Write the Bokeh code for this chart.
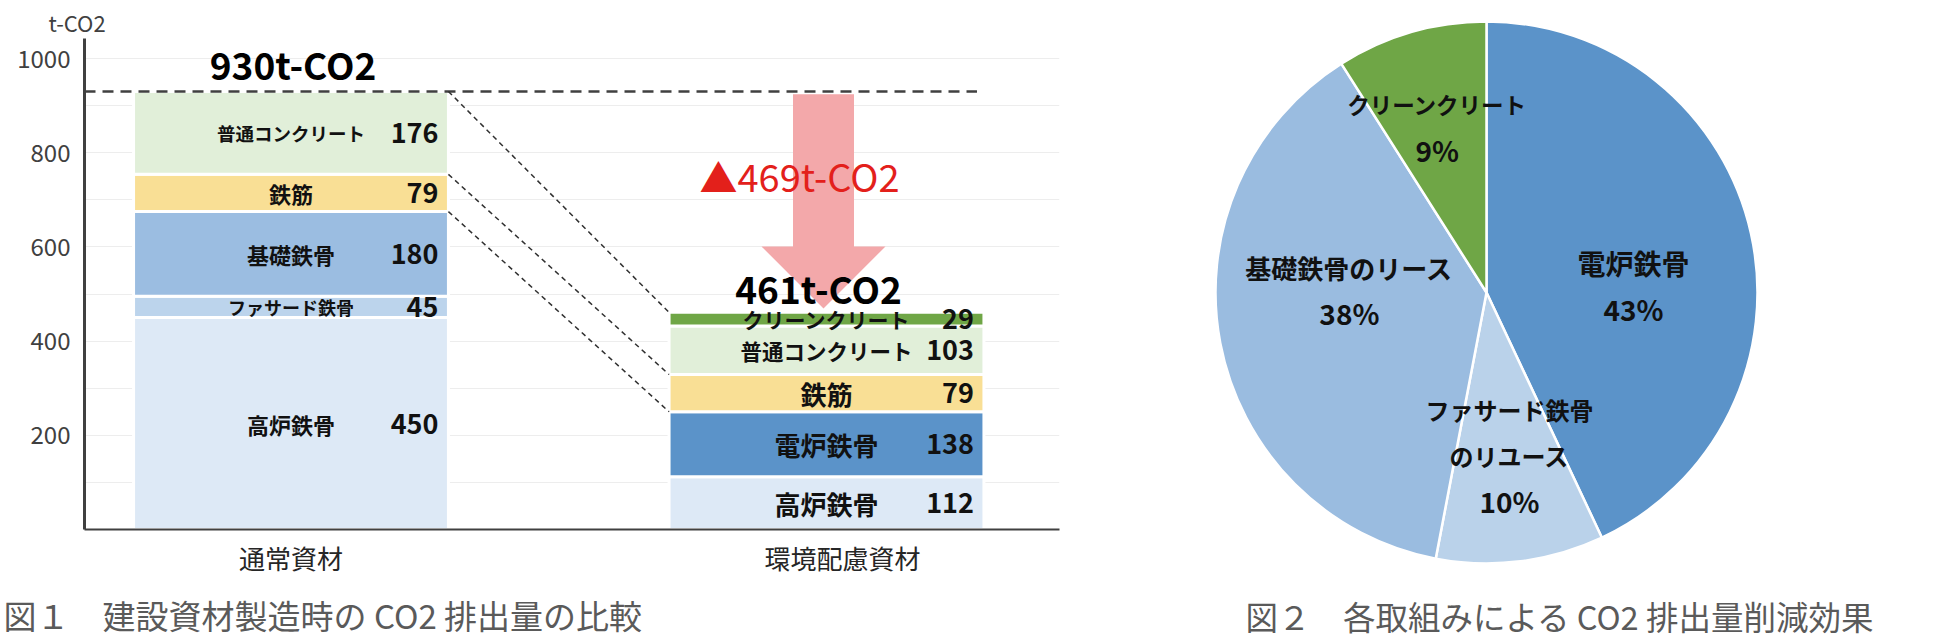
import numpy as np
from bokeh.plotting import figure
from bokeh.models import Range1d, FixedTicker, ColumnDataSource, Title
from bokeh.layouts import row, column
from bokeh.embed import file_html
from bokeh.resources import INLINE
from bokeh.core.properties import value

# ---------------- data ----------------
categories = ["通常資材", "環境配慮資材"]
normal_items = ["高炉鉄骨", "ファサード鉄骨", "基礎鉄骨", "鉄筋", "普通コンクリート"]
normal_values = [450, 45, 180, 79, 176]
eco_items = ["高炉鉄骨", "電炉鉄骨", "鉄筋", "普通コンクリート", "クリーンクリート"]
eco_values = [112, 138, 79, 103, 29]
y_ticks = [200, 400, 600, 800, 1000]
unit_label = "t-CO2"

pie_items = ["電炉鉄骨", "ファサード鉄骨のリユース", "基礎鉄骨のリース", "クリーンクリート"]
pie_share = [43, 10, 38, 9]

caption1 = "図１　建設資材製造時の CO2 排出量の比較"
caption2 = "図２　各取組みによる CO2 排出量削減効果"

# ---------------- styles ----------------
FONT = "Noto Sans CJK JP"
item_colors = {
    "高炉鉄骨": "#DDE9F6",
    "ファサード鉄骨": "#BCD4EC",
    "基礎鉄骨": "#9BBDE1",
    "鉄筋": "#F9DF95",
    "普通コンクリート": "#E1EFD9",
    "電炉鉄骨": "#5B93C9",
    "クリーンクリート": "#6FA646",
}
pie_colors = ["#5B93C9", "#BAD2EA", "#9ABCE0", "#6FA646"]
normal_label_sizes = ["22px", "18px", "22px", "22px", "18.5px"]
eco_label_sizes = ["26px", "26px", "26px", "21.5px", "21px"]

# ---------------- layout constants ----------------
H_TOP = 590            # height of the chart row
bar_x = [1.0, 2.0]
cat_tick_x = [1.0, 2.03]
bar_w = 0.588
px_per_x = 535.5
x_start = bar_x[0] - 206.5 / px_per_x
x_end = x_start + 975 / px_per_x
frame_top, frame_bottom = 38, 529
px_per_y = 0.471
y_top = (frame_bottom - frame_top) / px_per_y

# ---------------- bar chart ----------------
p1 = figure(width=1108, height=H_TOP, x_range=Range1d(x_start, x_end),
            y_range=Range1d(0, y_top), output_backend="svg",
            toolbar_location=None, min_border_left=84, min_border_right=49,
            min_border_top=frame_top, min_border_bottom=H_TOP - frame_bottom)
p1.outline_line_color = None
p1.xgrid.visible = False
p1.ygrid.ticker = FixedTicker(ticks=list(range(100, 1001, 100)))
p1.ygrid.grid_line_color = "#EDEDED"
p1.ygrid.grid_line_width = 1

p1.yaxis.ticker = FixedTicker(ticks=y_ticks)
p1.yaxis.axis_line_color = "#404040"
p1.yaxis.axis_line_width = 3
p1.yaxis.major_tick_line_color = None
p1.yaxis.major_tick_out = 0
p1.yaxis.major_tick_in = 0
p1.yaxis.minor_tick_line_color = None
p1.yaxis.major_label_standoff = 14
p1.yaxis.major_label_text_font = FONT
p1.yaxis.major_label_text_font_size = "24px"
p1.yaxis.major_label_text_color = "#404040"

p1.xaxis.ticker = FixedTicker(ticks=cat_tick_x)
p1.xaxis.major_label_overrides = {cat_tick_x[0]: categories[0], cat_tick_x[1]: categories[1]}
p1.xaxis.axis_line_color = "#404040"
p1.xaxis.axis_line_width = 2
p1.xaxis.major_tick_line_color = None
p1.xaxis.minor_tick_line_color = None
p1.xaxis.major_label_standoff = 3
p1.xaxis.major_label_text_font = FONT
p1.xaxis.major_label_text_font_size = "26px"
p1.xaxis.major_label_text_color = "#262626"

total1 = sum(normal_values)
total2 = sum(eco_values)
reduction = total1 - total2

# arrow (decoration)
xa = bar_x[1] - 3 / px_per_x
shaft = 30.5 / px_per_x
head = 62 / px_per_x
a_top = total1 - 6
a_tip = total2 + 8
a_base = a_tip + 132
p1.patch(x=[xa - shaft, xa + shaft, xa + shaft, xa + head, xa, xa - head, xa - shaft],
         y=[a_top, a_top, a_base, a_base, a_tip, a_base, a_base],
         fill_color="#F3A8AA", line_color=None)


def stack(items, vals, xc, label_sizes):
    vals = np.array(vals, dtype=float)
    tops = np.cumsum(vals)
    bottoms = tops - vals
    src = ColumnDataSource(dict(
        x=[xc] * len(vals), bottom=bottoms, top=tops,
        mid=(bottoms + tops) / 2, name=items,
        val=[str(int(v)) for v in vals],
        color=[item_colors[i] for i in items],
        size=label_sizes,
        xr=[xc + bar_w / 2] * len(vals),
    ))
    p1.vbar(x="x", bottom="bottom", top="top", width=bar_w, fill_color="color",
            line_color="white", line_width=3, source=src)
    p1.text(x="x", y="mid", text="name", source=src, text_align="center",
            text_baseline="middle", text_font=value(FONT), text_font_style="bold",
            text_font_size="size", text_color="#111111")
    p1.text(x="xr", y="mid", text="val", source=src, text_align="right",
            text_baseline="middle", x_offset=-10, text_font=value(FONT),
            text_font_style="bold", text_font_size="27px", text_color="#111111")
    return tops, bottoms


tops1, bots1 = stack(normal_items, normal_values, bar_x[0], normal_label_sizes)
tops2, bots2 = stack(eco_items, eco_values, bar_x[1], eco_label_sizes)

# total dashed line
p1.segment(x0=[x_start], y0=[total1], x1=[bar_x[1] + bar_w / 2 - 0.013], y1=[total1],
           line_color="#404040", line_width=2.5, line_dash="11 7")

# connectors: total, 鉄筋 top, 鉄筋 bottom
i1 = normal_items.index("鉄筋")
i2 = eco_items.index("鉄筋")
y0s = [total1, tops1[i1], bots1[i1]]
y1s = [total2, tops2[i2], bots2[i2]]
p1.segment(x0=[bar_x[0] + bar_w / 2] * 3, y0=y0s, x1=[bar_x[1] - bar_w / 2] * 3, y1=y1s,
           line_color="#303030", line_width=1.5, line_dash="5 4")

# totals text
p1.text(x=[bar_x[0] + 2 / px_per_x], y=[total1 + 59], text=[f"{total1}t-CO2"], text_align="center",
        text_baseline="middle", text_font=value(FONT), text_font_style="bold",
        text_font_size="37px", text_color="#000000")
p1.text(x=[bar_x[1] - 8 / px_per_x], y=[total2 + 51], text=[f"{total2}t-CO2"],
        text_align="center", text_baseline="middle", text_font=value(FONT),
        text_font_style="bold", text_font_size="37px", text_color="#000000")
p1.text(x=[bar_x[1] - 27 / px_per_x], y=[752], text=[f"▲{reduction}t-CO2"],
        text_align="center", text_baseline="middle", text_font=value(FONT),
        text_font_size="38px", text_color="#E3201B")

p1.add_layout(Title(text=unit_label, align="left", offset=-36, standoff=2,
                    text_font=FONT, text_font_size="22px", text_font_style="normal",
                    text_color="#404040"), "above")

# ---------------- pie chart ----------------
R = 271.0
W2 = 842
cx, cy = 378, 292   # pie centre inside this panel (px from left / top)
p2 = figure(width=W2, height=H_TOP, x_range=Range1d(-cx / R, (W2 - cx) / R),
            y_range=Range1d(-(H_TOP - cy) / R, cy / R), output_backend="svg",
            toolbar_location=None, min_border=0)
p2.axis.visible = False
p2.grid.visible = False
p2.outline_line_color = None

share = np.array(pie_share, dtype=float)
frac_end = np.cumsum(share) / share.sum()
frac_start = frac_end - share / share.sum()
start_ang = np.pi / 2 - frac_start * 2 * np.pi
end_ang = np.pi / 2 - frac_end * 2 * np.pi
p2.wedge(x=0, y=0, radius=1, start_angle=start_ang, end_angle=end_ang,
         direction="clock", fill_color=pie_colors, line_color="white", line_width=2.5)

label_lines = [["電炉鉄骨"], ["ファサード鉄骨", "のリユース"], ["基礎鉄骨のリース"], ["クリーンクリート"]]
label_sizes = [["28px"], ["24px", "24px"], ["26px"], ["22.5px"]]
label_anchor = [(0.542, 0.024), (0.085, -0.601), (-0.506, 0.008), (-0.182, 0.612)]
step = 46 / R
tx, ty, tt, ts = [], [], [], []
for lines, sizes, (ax, ay), pct in zip(label_lines, label_sizes, label_anchor, pie_share):
    allv = lines + [f"{pct}%"]
    alls = sizes + ["28px"]
    n = len(allv)
    for k, (t, s) in enumerate(zip(allv, alls)):
        tx.append(ax)
        ty.append(ay + ((n - 1) / 2 - k) * step)
        tt.append(t)
        ts.append(s)
p2.text(x=tx, y=ty, text=tt, text_font_size=ts, text_align="center",
        text_baseline="middle", text_font=value(FONT), text_font_style="bold",
        text_color="#111111")

# ---------------- caption strip ----------------
H_CAP = 640 - H_TOP
p3 = figure(width=1950, height=H_CAP, x_range=Range1d(0, 1950), y_range=Range1d(H_CAP, 0),
            output_backend="svg", toolbar_location=None, min_border=0)
p3.axis.visible = False
p3.grid.visible = False
p3.outline_line_color = None
p3.text(x=[3, 1245], y=[24, 25], text=[caption1, caption2], text_align="left",
        text_baseline="middle", text_font=value(FONT),
        text_font_size=["33px", "32.5px"], text_color="#5A5A5A")

for p in (p1, p2, p3):
    if "frame_align" in p.properties():
        p.frame_align = False

layout = column(row(p1, p2, spacing=0), p3, spacing=0)
open("out.html", "w").write(file_html(layout, INLINE))
